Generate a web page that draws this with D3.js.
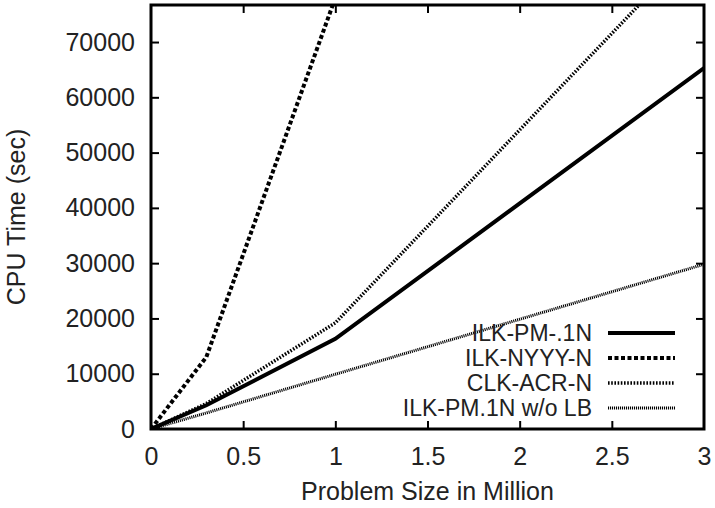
<!DOCTYPE html>
<html>
<head>
<meta charset="utf-8">
<script src="https://cdn.jsdelivr.net/npm/d3@7"></script>
<style>
  body { margin: 0; background: #fff; }
  svg { display: block; font-family: "Liberation Sans", Arial, sans-serif; }
</style>
</head>
<body>
<div id="chart"></div>
<script>
// problem size (million) and CPU time (sec) per method
const sizes = [0, 0.3, 1, 3];
const seriesNames = ["ILK-PM-.1N", "ILK-NYYY-N", "CLK-ACR-N", "ILK-PM.1N w/o LB"];
const ilkPm = [0, 4300, 16300, 65300];
const ilkNyyy = [0, 13000, 78000, null];
const clkAcr = [0, 4600, 19200, 89000];
const ilkPmNoLb = [0, 2900, 9900, 29800];
const xTicks = [0, 0.5, 1, 1.5, 2, 2.5, 3];
const yTicks = [0, 10000, 20000, 30000, 40000, 50000, 60000, 70000];

const width = 715, height = 508;
const margin = { top: 5, right: 11, bottom: 79, left: 151 };

const svg = d3.select("#chart").append("svg")
    .attr("width", width)
    .attr("height", height);

const x = d3.scaleLinear()
    .domain([0, 3])
    .range([margin.left, width - margin.right]);

const y = d3.scaleLinear()
    .domain([0, 76700])
    .range([height - margin.bottom, margin.top]);

const styles = [
    { width: 4, dash: null },
    { width: 4, dash: "4,2.5" },
    { width: 3.5, dash: "1.6,1.6" },
    { width: 3, dash: "1.1,0.9" }
];
const values = [ilkPm, ilkNyyy, clkAcr, ilkPmNoLb];

svg.append("defs").append("clipPath")
    .attr("id", "plot-clip")
    .append("rect")
    .attr("x", margin.left)
    .attr("y", margin.top)
    .attr("width", width - margin.left - margin.right)
    .attr("height", height - margin.top - margin.bottom);

const line = d3.line()
    .defined(d => d[1] != null)
    .x(d => x(d[0]))
    .y(d => y(d[1]));

svg.append("g")
    .attr("clip-path", "url(#plot-clip)")
    .selectAll("path")
    .data(values)
    .join("path")
    .attr("fill", "none")
    .attr("stroke", "#000")
    .attr("stroke-width", (d, i) => styles[i].width)
    .attr("stroke-dasharray", (d, i) => styles[i].dash)
    .attr("d", d => line(d.map((v, i) => [sizes[i], v])));

// axes with inward ticks on all sides (gnuplot style)
const tickLen = 8;
const fontSize = 25;

const axisBottomG = svg.append("g")
    .attr("transform", `translate(0,${y(0)})`)
    .call(d3.axisBottom(x).tickValues(xTicks).tickFormat(d3.format("")).tickSize(-tickLen).tickPadding(18));

const axisTopG = svg.append("g")
    .attr("transform", `translate(0,${margin.top})`)
    .call(d3.axisTop(x).tickValues(xTicks).tickSize(-tickLen).tickFormat(""));

const axisLeftG = svg.append("g")
    .attr("transform", `translate(${margin.left},0)`)
    .call(d3.axisLeft(y).tickValues(yTicks).tickFormat(d3.format("d")).tickSize(-tickLen).tickPadding(16));

const axisRightG = svg.append("g")
    .attr("transform", `translate(${width - margin.right},0)`)
    .call(d3.axisRight(y).tickValues(yTicks).tickSize(-tickLen).tickFormat(""));

[axisBottomG, axisTopG, axisLeftG, axisRightG].forEach(g => {
    g.select(".domain").remove();
    g.selectAll(".tick line").attr("stroke", "#000").attr("stroke-width", 2);
    g.selectAll(".tick text")
        .attr("fill", "#222")
        .style("font-size", fontSize + "px");
});
// drop the end ticks that sit on the frame
[axisBottomG, axisTopG].forEach(g => g.selectAll(".tick line").filter(d => d === 0 || d === 3).remove());
[axisLeftG, axisRightG].forEach(g => g.selectAll(".tick line").filter(d => d === 0).remove());

svg.append("rect")
    .attr("x", margin.left)
    .attr("y", margin.top)
    .attr("width", width - margin.left - margin.right)
    .attr("height", height - margin.top - margin.bottom)
    .attr("fill", "none")
    .attr("stroke", "#000")
    .attr("stroke-width", 3);

svg.append("text")
    .attr("x", (margin.left + width - margin.right) / 2)
    .attr("y", 500)
    .attr("text-anchor", "middle")
    .attr("fill", "#222")
    .style("font-size", fontSize + "px")
    .text("Problem Size in Million");

svg.append("text")
    .attr("transform", `translate(25,${(margin.top + height - margin.bottom) / 2}) rotate(-90)`)
    .attr("text-anchor", "middle")
    .attr("fill", "#222")
    .style("font-size", fontSize + "px")
    .text("CPU Time (sec)");

// legend (rows are tight in the original, so the text is a touch smaller)
const legendFont = 23;
const legend = svg.append("g")
    .selectAll("g")
    .data(seriesNames)
    .join("g")
    .attr("transform", (d, i) => `translate(0,${333 + i * 25})`);

legend.append("text")
    .attr("x", 592)
    .attr("dy", "0.35em")
    .attr("text-anchor", "end")
    .attr("fill", "#222")
    .style("font-size", legendFont + "px")
    .text(d => d);

legend.append("line")
    .attr("x1", 608)
    .attr("x2", 675)
    .attr("stroke", "#000")
    .attr("stroke-width", (d, i) => styles[i].width)
    .attr("stroke-dasharray", (d, i) => styles[i].dash);
</script>
</body>
</html>
